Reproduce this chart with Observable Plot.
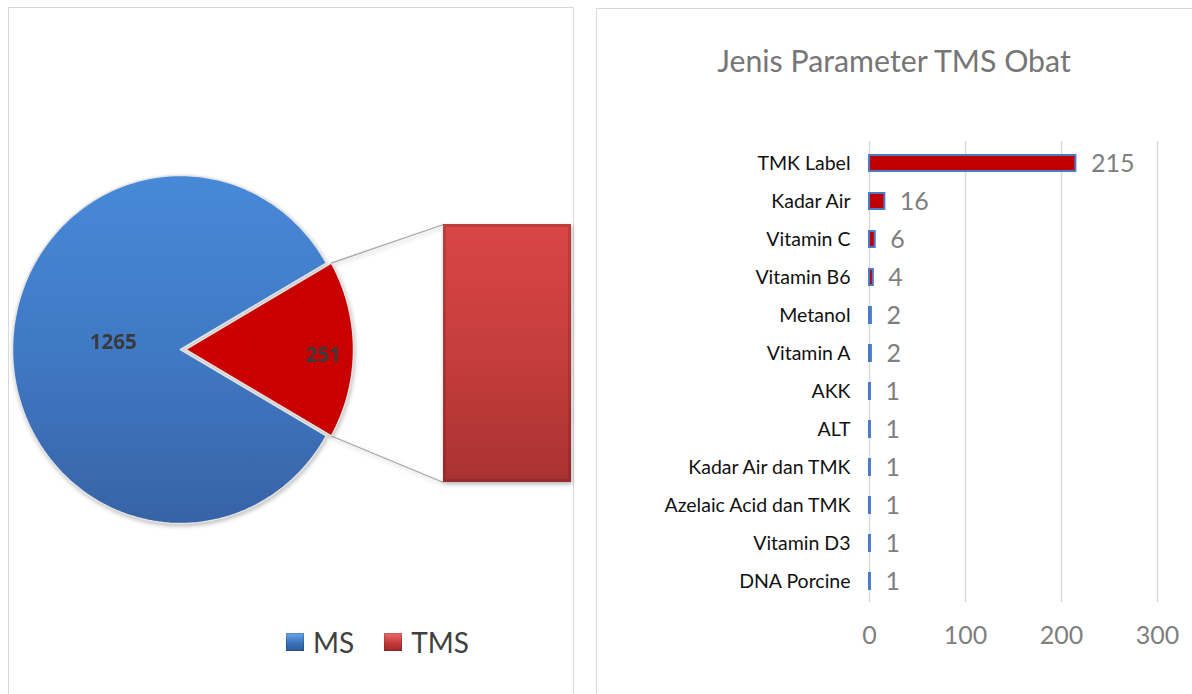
<!DOCTYPE html>
<html>
<head>
<meta charset="utf-8">
<script src="https://cdn.jsdelivr.net/npm/d3@7"></script>
<script src="https://cdn.jsdelivr.net/npm/@observablehq/plot@0.6"></script>
<style>
  body { margin: 0; background: #fff; font-family: Lato, "Open Sans", sans-serif; }
  #root { position: relative; width: 1192px; height: 694px; overflow: hidden; background: #fff; }
  .abs { position: absolute; }
</style>
</head>
<body>
<div id="root"></div>
<script>
// ---------- data ----------
const pieLabels = ["MS", "TMS"];
const pieValues = [1265, 251];

const barCategories = ["TMK Label", "Kadar Air", "Vitamin C", "Vitamin B6", "Metanol", "Vitamin A",
  "AKK", "ALT", "Kadar Air dan TMK", "Azelaic Acid dan TMK", "Vitamin D3", "DNA Porcine"];
const barValues = [215, 16, 6, 4, 2, 2, 1, 1, 1, 1, 1, 1];
const xTicks = [0, 100, 200, 300];
const rightTitle = "Jenis Parameter TMS Obat";

// ---------- layout ----------
const root = document.getElementById("root");
const PIE = {cx: 180, cy: 349, rx: 168, ry: 174, explode: 5, labelR: [0.4, 0.82], labelDy: [-7, 6]};
const BAR = {left: 443, top: 224, width: 128, height: 258};

// gradient definitions
const defs = document.createElementNS("http://www.w3.org/2000/svg", "svg");
defs.setAttribute("width", 0); defs.setAttribute("height", 0);
defs.style.position = "absolute";
defs.innerHTML = `
<defs>
  <linearGradient id="gBlue" x1="0" y1="0" x2="0" y2="1">
    <stop offset="0" stop-color="#4789d8"/>
    <stop offset="0.5" stop-color="#4079c4"/>
    <stop offset="1" stop-color="#3763a6"/>
  </linearGradient>
  <radialGradient id="gRed" cx="0.3" cy="0.5" r="0.9">
    <stop offset="0" stop-color="#cc0000"/>
    <stop offset="0.8" stop-color="#c80000"/>
    <stop offset="1" stop-color="#a00000"/>
  </radialGradient>
  <linearGradient id="gBar" x1="0" y1="0" x2="0" y2="1">
    <stop offset="0" stop-color="#d94646"/>
    <stop offset="0.5" stop-color="#c63d3d"/>
    <stop offset="1" stop-color="#aa3232"/>
  </linearGradient>
</defs>`;
root.appendChild(defs);

// panel borders
function box(left, top, w, h) {
  const d = document.createElement("div");
  d.className = "abs";
  Object.assign(d.style, {left: left + "px", top: top + "px", width: w + "px", height: h + "px",
    border: "1.5px solid #d9d9d9", boxSizing: "border-box"});
  root.appendChild(d);
}
box(8, 7, 566, 720);
box(596, 8, 640, 720);

// ---------- left: pie of bar ----------
const total = d3.sum(pieValues);
const msSpan = 2 * Math.PI * pieValues[0] / total;
const tmsSpan = 2 * Math.PI * pieValues[1] / total;
const start = Math.PI / 2 - tmsSpan / 2 - msSpan;
const arcs = d3.pie().sort(null).startAngle(start).endAngle(start + 2 * Math.PI)(pieValues);

function pt(a, r, off) {
  return {x: off.x + PIE.cx + r * PIE.rx * Math.sin(a), y: off.y + PIE.cy - r * PIE.ry * Math.cos(a)};
}
const slices = arcs.map((a, i) => {
  const mid = (a.startAngle + a.endAngle) / 2;
  const e = i === 1 ? PIE.explode : 0;
  const off = {x: e * Math.sin(mid), y: -e * Math.cos(mid)};
  const pts = [pt(0, 0, off)];
  const n = 160;
  for (let k = 0; k <= n; k++) pts.push(pt(a.startAngle + (a.endAngle - a.startAngle) * k / n, 1, off));
  const lp = pt(mid, PIE.labelR[i], off);
  return {label: pieLabels[i], value: a.value, pts, mid, off,
    first: pts[1], last: pts[pts.length - 1],
    labelPos: {x: lp.x, y: lp.y + PIE.labelDy[i]}};
});
const fills = ["url(#gBlue)", "url(#gRed)"];
const tms = slices[1];
const connectors = [
  {x1: tms.first.x, y1: tms.first.y, x2: BAR.left, y2: BAR.top},
  {x1: tms.last.x, y1: tms.last.y, x2: BAR.left, y2: BAR.top + BAR.height}
];

const piePlot = Plot.plot({
  width: 596, height: 694, margin: 0,
  x: {type: "identity", axis: null},
  y: {type: "identity", axis: null},
  style: {background: "transparent", fontFamily: "Lato, sans-serif", overflow: "visible"},
  marks: [
    ...slices.map((s, i) => Plot.line(s.pts, {x: "x", y: "y", fill: fills[i], stroke: "#e4e4e4",
      strokeWidth: 1.5, curve: "linear-closed"})),
    Plot.link(connectors, {x1: "x1", y1: "y1", x2: "x2", y2: "y2", stroke: "#a6a6a6", strokeWidth: 1.3}),
    Plot.text(slices, {x: d => d.labelPos.x, y: d => d.labelPos.y, text: d => String(d.value),
      fontSize: 20.5, fontWeight: "bold", fill: "#3a3a3a", fontFamily: "Open Sans, sans-serif"})
  ]
});
piePlot.classList.add("abs");
Object.assign(piePlot.style, {left: "0px", top: "0px", filter: "drop-shadow(1px 2px 2px rgba(0,0,0,0.25))"});
root.appendChild(piePlot);

// the bar of the pie-of-bar (value TMS, stacked)
const barPlot = Plot.plot({
  width: BAR.width, height: BAR.height, margin: 0,
  x: {axis: null, padding: 0},
  y: {axis: null, domain: [0, pieValues[1]]},
  style: {background: "transparent", overflow: "visible"},
  marks: [
    Plot.barY([{label: pieLabels[1], value: pieValues[1]}], {x: "label", y: "value", fill: "url(#gBar)", inset: 0}),
    Plot.barY([{label: pieLabels[1], value: pieValues[1]}], {x: "label", y: "value", fill: "none",
      stroke: "#000", strokeOpacity: 0.12, strokeWidth: 3, inset: 1.5})
  ]
});
barPlot.classList.add("abs");
Object.assign(barPlot.style, {left: BAR.left + "px", top: BAR.top + "px", filter: "drop-shadow(1px 2px 2px rgba(0,0,0,0.3))"});
root.appendChild(barPlot);

// legend
const legend = document.createElement("div");
legend.className = "abs";
Object.assign(legend.style, {left: "286px", top: "625px", display: "flex", alignItems: "center",
  fontFamily: "Lato, sans-serif", fontSize: "28px", color: "#404040", whiteSpace: "nowrap"});
const swatchBg = ["linear-gradient(#6aa6ea, #3a72bd 55%, #2d5a98)", "linear-gradient(#ee6b6b, #c43a3a 55%, #9e2a2a)"];
pieLabels.forEach((l, i) => {
  const sw = document.createElement("span");
  Object.assign(sw.style, {display: "inline-block", width: "18px", height: "18px", background: swatchBg[i],
    marginRight: "9px", boxShadow: "inset 0 0 0 1px rgba(0,0,0,0.15)"});
  const tx = document.createElement("span");
  tx.textContent = l;
  tx.style.marginRight = i === 0 ? "30px" : "0";
  legend.appendChild(sw); legend.appendChild(tx);
});
root.appendChild(legend);

// ---------- right: horizontal bar chart ----------
const title = document.createElement("div");
title.className = "abs";
title.textContent = rightTitle;
Object.assign(title.style, {left: "596px", width: "596px", top: "40px", textAlign: "center",
  fontFamily: "Lato, sans-serif", fontSize: "30.3px", color: "#767676", lineHeight: "40px"});
root.appendChild(title);

const barData = barCategories.map((c, i) => ({name: c, value: barValues[i]}));
const rightPlot = Plot.plot({
  width: 596, height: 594,
  marginLeft: 273, marginRight: 35, marginTop: 41, marginBottom: 92,
  style: {background: "transparent", fontFamily: "Lato, sans-serif", overflow: "visible"},
  x: {domain: [0, 300]},
  y: {domain: barCategories, paddingInner: 0.58, paddingOuter: 0.29},
  marks: [
    Plot.gridX(xTicks, {stroke: "#d9d9d9", strokeOpacity: 1, strokeWidth: 1.5}),
    Plot.barX(barData, {x: "value", y: "name", fill: "#c00000", stroke: "#4a7bc8", strokeWidth: 2}),
    Plot.text(barData, {x: "value", y: "name", text: d => String(d.value), dx: 15, textAnchor: "start",
      fill: "#7f7f7f", fontSize: 25}),
    Plot.axisX(xTicks, {tickSize: 0, tickPadding: 24, fontSize: 25, color: "#7f7f7f", label: null, tickFormat: d => String(d)}),
    Plot.axisY({tickSize: 0, tickPadding: 19, fontSize: 19.5, color: "#111", label: null})
  ]
});
rightPlot.classList.add("abs");
Object.assign(rightPlot.style, {left: "596px", top: "100px"});
root.appendChild(rightPlot);
</script>
</body>
</html>
